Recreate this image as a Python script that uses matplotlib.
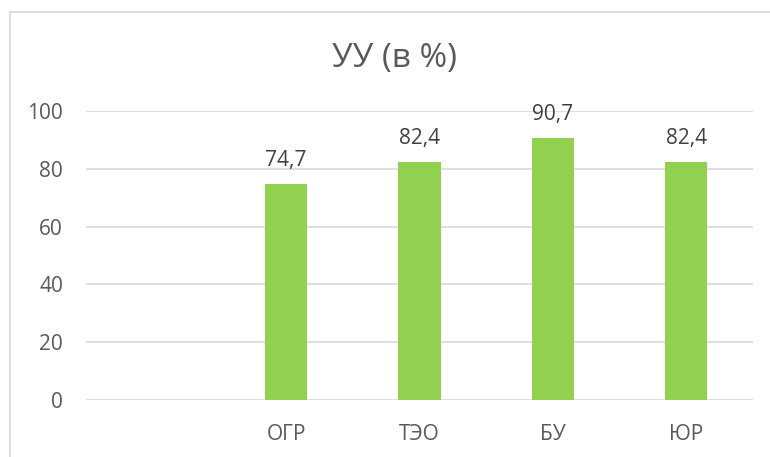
import matplotlib
matplotlib.use("Agg")
import matplotlib.pyplot as plt

categories = ["", "ОГР", "ТЭО", "БУ", "ЮР"]
values = [None, 74.7, 82.4, 90.7, 82.4]
yticks = [0, 20, 40, 60, 80, 100]
title = "УУ (в %)"

plt.rcParams['font.family'] = ['Open Sans', 'DejaVu Sans']
txt = '#595959'

fig = plt.figure(figsize=(7.7, 4.57), dpi=100)
ax = fig.add_axes([86/770, 1-400/457, (753-86)/770, (400-111)/457])

xs = list(range(len(categories)))
bx = [x for x, v in zip(xs, values) if v is not None]
bv = [v for v in values if v is not None]
ax.bar(bx, bv, width=0.315, color='#92D050', zorder=3)
for x, v in zip(bx, bv):
    ax.annotate(f"{v:.1f}".replace('.', ','), (x, v), xytext=(0, 13), textcoords='offset points',
                ha='center', va='baseline', fontsize=15, color='#404040')

ax.set_xlim(-0.5, len(categories) - 0.5)
ax.set_ylim(0, 100)
ax.set_yticks(yticks)
ax.set_xticks(xs)
ax.set_xticklabels(categories)
ax.tick_params(axis='both', length=0, labelsize=15, colors=txt)
ax.tick_params(axis='y', pad=16.5)
ax.tick_params(axis='x', pad=17)
ax.grid(axis='y', color='#D9D9D9', linewidth=1.2, zorder=0)
for s in ax.spines.values():
    s.set_visible(False)

fig.text(395/770, 1-58/457, title, ha='center', va='center', fontsize=24, color=txt)

# chart border (left and top edges visible)
fig.add_artist(plt.Line2D([10/770, 10/770], [0, 1-12/457], transform=fig.transFigure, color='#D9D9D9', lw=1.2))
fig.add_artist(plt.Line2D([10/770, 1], [1-12/457, 1-12/457], transform=fig.transFigure, color='#D9D9D9', lw=1.2))

fig.savefig('out.png', dpi=100)
